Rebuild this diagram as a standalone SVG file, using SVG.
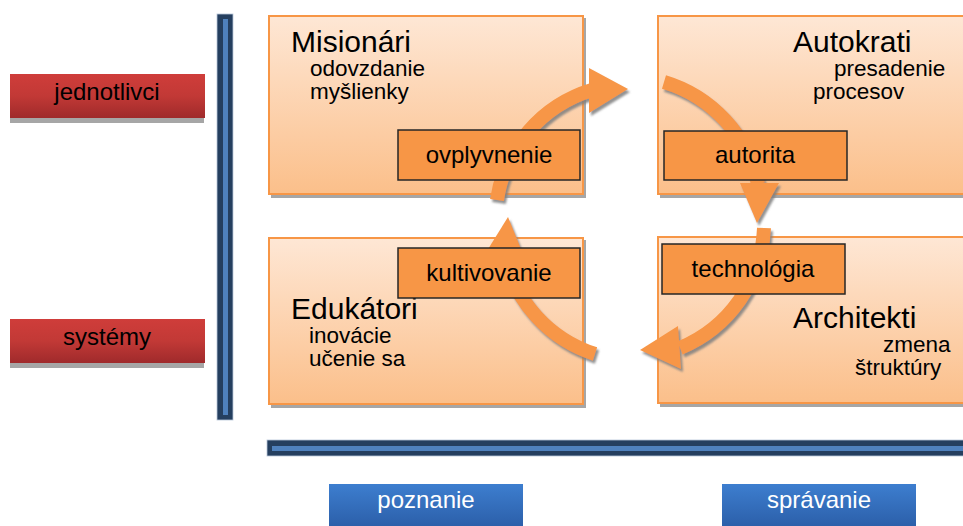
<svg xmlns="http://www.w3.org/2000/svg" width="963" height="526" viewBox="0 0 963 526">
<defs>
<linearGradient id="gQuad" x1="0" y1="0" x2="0" y2="1">
<stop offset="0" stop-color="#FEE7D5"/>
<stop offset="1" stop-color="#FBBF8A"/>
</linearGradient>
<linearGradient id="gRed" x1="0" y1="0" x2="0" y2="1">
<stop offset="0" stop-color="#CF3D3A"/>
<stop offset="0.5" stop-color="#C23936"/>
<stop offset="1" stop-color="#9F2A2B"/>
</linearGradient>
<linearGradient id="gBlue" x1="0" y1="0" x2="0" y2="1">
<stop offset="0" stop-color="#3D7ECF"/>
<stop offset="1" stop-color="#2B5EA8"/>
</linearGradient>
<filter id="shadow" x="-20%" y="-20%" width="140%" height="140%">
<feDropShadow dx="2" dy="3" stdDeviation="0.8" flood-color="#7F7F7F" flood-opacity="0.85"/>
</filter>
</defs>
<style>
.quad{fill:url(#gQuad);stroke:#F79646;stroke-width:2}
.qshadow{fill:#A6A6A6}
.qtxt{font-family:"Liberation Sans",Arial,sans-serif;font-size:22.5px;fill:#000}
.title{font-size:30px}
.lbl{fill:#F79646;stroke:#262626;stroke-width:1.5}
.lbltxt{font-family:"Liberation Sans",Arial,sans-serif;font-size:24px;fill:#000;text-anchor:middle}
.red{fill:url(#gRed)}
.blue{fill:url(#gBlue)}
.axtxt{font-family:"Liberation Sans",Arial,sans-serif;font-size:24px;text-anchor:middle}
.band{fill:none;stroke:#F79646;stroke-width:14;stroke-linecap:butt}
.head{fill:#F79646}
.barout{fill:#253F5F;stroke:#B8C7DA;stroke-width:0.8}
.barin{fill:#4F81BD}
</style>

<g id="axis-vertical">
<rect class="barout" x="217" y="14" width="16" height="406"/>
<rect class="barin" x="223" y="19" width="5" height="396"/>
</g>
<g id="axis-horizontal">
<rect class="barout" x="267" y="440" width="700" height="16"/>
<rect class="barin" x="272" y="446" width="695" height="5"/>
</g>

<g id="jednotlivci">
<rect class="qshadow" x="10" y="118" width="194" height="5"/>
<rect class="red" x="10" y="74" width="195" height="44"/>
<text class="axtxt" x="107" y="100" fill="#000" font-size="25">jednotlivci</text>
</g>
<g id="systemy">
<rect class="qshadow" x="10" y="363" width="194" height="5"/>
<rect class="red" x="10" y="319" width="195" height="44"/>
<text class="axtxt" x="107" y="345" fill="#000" font-size="25">systémy</text>
</g>

<g id="poznanie">
<rect class="blue" x="329" y="484" width="194" height="44"/>
<text class="axtxt" x="426" y="508" fill="#FFF">poznanie</text>
</g>
<g id="spravanie">
<rect class="blue" x="722" y="484" width="194" height="44"/>
<text class="axtxt" x="819" y="508" fill="#FFF">správanie</text>
</g>

<g id="misionari">
<rect class="qshadow" x="271" y="18" width="315" height="180"/>
<rect class="quad" x="269" y="16" width="314" height="178"/>
<text class="qtxt"><tspan class="title" x="291" y="52">Misionári</tspan><tspan x="310" y="76">odovzdanie</tspan><tspan x="310" y="99">myšlienky</tspan></text>
</g>
<g id="autokrati">
<rect class="qshadow" x="660" y="18" width="310" height="180"/>
<rect class="quad" x="658" y="16" width="310" height="178"/>
<text class="qtxt"><tspan class="title" x="793" y="52">Autokrati</tspan><tspan x="834" y="76">presadenie</tspan><tspan x="813" y="99">procesov</tspan></text>
</g>
<g id="edukatori">
<rect class="qshadow" x="271" y="240" width="315" height="168"/>
<rect class="quad" x="269" y="238" width="314" height="166"/>
<text class="qtxt"><tspan class="title" x="291" y="319">Edukátori</tspan><tspan x="309" y="343">inovácie</tspan><tspan x="309" y="366">učenie sa</tspan></text>
</g>
<g id="architekti">
<rect class="qshadow" x="660" y="239" width="310" height="168"/>
<rect class="quad" x="658" y="237" width="310" height="166"/>
<text class="qtxt"><tspan class="title" x="793" y="328">Architekti</tspan><tspan x="883" y="352">zmena</tspan><tspan x="855" y="375">štruktúry</tspan></text>
</g>

<g id="connectors" filter="url(#shadow)">
<path class="band" d="M 497 200 A 136 136 0 0 1 592 90"/>
<polygon class="head" points="589,68 628,89 589,113"/>
<path class="band" d="M 664 82 A 136 136 0 0 1 758 184"/>
<polygon class="head" points="740,183 779,183 757,223"/>
<path class="band" d="M 764 228 A 136 136 0 0 1 680 348"/>
<polygon class="head" points="678,326 640,350 681,369"/>
<path class="band" d="M 595 354 A 136 136 0 0 1 504 254"/>
<polygon class="head" points="485,254 508,217 523,254"/>
</g>

<g id="ovplyvnenie">
<rect class="lbl" x="398" y="130" width="182" height="50"/>
<text class="lbltxt" x="489" y="163">ovplyvnenie</text>
</g>
<g id="autorita">
<rect class="lbl" x="664" y="131" width="183" height="49"/>
<text class="lbltxt" x="755" y="163">autorita</text>
</g>
<g id="kultivovanie">
<rect class="lbl" x="398" y="248" width="182" height="50"/>
<text class="lbltxt" x="489" y="281">kultivovanie</text>
</g>
<g id="technologia">
<rect class="lbl" x="662" y="244" width="183" height="50"/>
<text class="lbltxt" x="753" y="277">technológia</text>
</g>
</svg>
